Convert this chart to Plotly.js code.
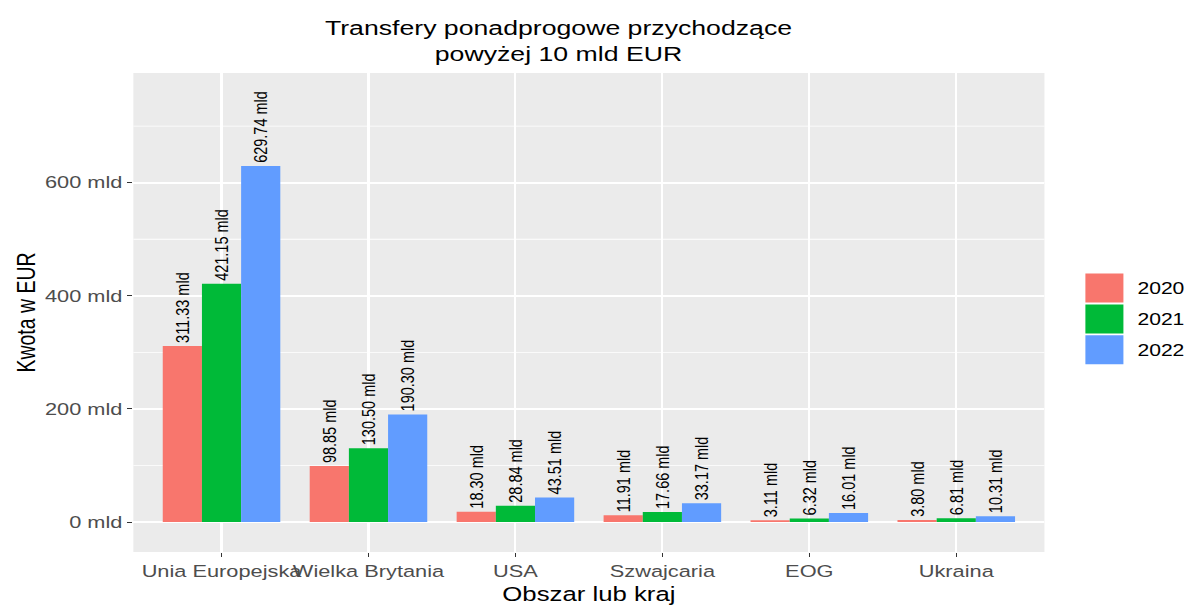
<!DOCTYPE html>
<html>
<head>
<meta charset="utf-8">
<script src="https://cdn.plot.ly/plotly-3.0.1.min.js"></script>
<style>
  html, body { margin: 0; padding: 0; background: #ffffff; overflow: hidden; }
  #wrap { width: 1187px; height: 605px; overflow: hidden; }
  #chart { width: 899px; height: 605px; transform: scaleX(1.3204); transform-origin: 0 0; }
</style>
</head>
<body>
<div id="wrap"><div id="chart"></div></div>
<script>
// ---- data ----
const categories = ['Unia Europejska', 'Wielka Brytania', 'USA', 'Szwajcaria', 'EOG', 'Ukraina'];
const years = ['2020', '2021', '2022'];
const values2020 = [311.33, 98.85, 18.30, 11.91, 3.11, 3.80];
const values2021 = [421.15, 130.50, 28.84, 17.66, 6.32, 6.81];
const values2022 = [629.74, 190.30, 43.51, 33.17, 16.01, 10.31];
const yTicks = [0, 200, 400, 600];
const yTickLabels = ['0 mld', '200 mld', '400 mld', '600 mld'];

const colors = ['#F8766D', '#00BA38', '#619CFF'];
const series = [values2020, values2021, values2022];
const FONT = '"Liberation Sans", Arial, sans-serif';

const traces = series.map((vals, i) => ({
  type: 'bar',
  name: years[i],
  legendgroup: 'g' + i,
  x: categories,
  y: vals,
  marker: { color: colors[i], line: { width: 0 } },
  texttemplate: '%{y:.2f} mld',
  textposition: 'outside',
  textangle: -90,
  constraintext: 'none',
  cliponaxis: false,
  textfont: { family: FONT, size: 14.5, color: '#000000' },
  hoverinfo: 'skip'
}));

const layout = {
  width: 899,
  height: 605,
  margin: { l: 100.7, r: 107.6, t: 73, b: 53, pad: 0 },
  paper_bgcolor: '#FFFFFF',
  plot_bgcolor: '#EBEBEB',
  barmode: 'group',
  bargap: 0.2,
  bargroupgap: 0,
  font: { family: FONT, color: '#000000' },
  title: {
    text: 'Transfery ponadprogowe przychodzące<br>powyżej 10 mld EUR',
    font: { family: FONT, size: 20.2, color: '#000000' },
    x: 0.4705, xref: 'container', xanchor: 'center',
    y: 0.942, yref: 'container', yanchor: 'top'
  },
  xaxis: {
    type: 'category',
    range: [-0.6, 5.6],
    showgrid: true, gridcolor: '#FFFFFF', gridwidth: 1.6,
    zeroline: false, showline: false,
    ticks: 'outside', ticklen: 4, tickwidth: 1, tickcolor: '#333333',
    tickangle: 0,
    tickfont: { family: FONT, size: 16.5, color: '#4D4D4D' },
    title: { text: 'Obszar lub kraj', font: { family: FONT, size: 19.5, color: '#000000' }, standoff: 11 },
    automargin: false,
    fixedrange: true
  },
  yaxis: {
    range: [-53, 794],
    tickmode: 'array', tickvals: yTicks, ticktext: yTickLabels,
    showgrid: true, gridcolor: '#FFFFFF', gridwidth: 1.6,
    minor: { dtick: 100, tick0: 0, showgrid: true, gridcolor: '#FFFFFF', gridwidth: 0.8, ticks: '' },
    zeroline: false, showline: false,
    ticks: 'outside', ticklen: 4, tickwidth: 1, tickcolor: '#333333',
    tickfont: { family: FONT, size: 16.5, color: '#4D4D4D' },
    title: { text: 'Kwota w EUR', font: { family: FONT, size: 19.5, color: '#000000' }, standoff: 1.5 },
    automargin: false,
    fixedrange: true
  },
  showlegend: true,
  legend: {
    xref: 'container', yref: 'paper',
    x: 0.9137, xanchor: 'left',
    y: 0.486, yanchor: 'middle',
    traceorder: 'grouped',
    tracegroupgap: 7,
    bgcolor: 'rgba(0,0,0,0)',
    font: { family: FONT, size: 16, color: '#000000' }
  }
};

Plotly.newPlot('chart', traces, layout, { displayModeBar: false, staticPlot: true }).then(() => {
  // enlarge legend keys to ggplot-like squares
  document.querySelectorAll('#chart .legendpoints path').forEach(p => {
    p.setAttribute('d', 'M9.4,14.5H-19.4V-14.5H9.4Z');
    p.style.strokeWidth = '0';
  });
});
</script>
</body>
</html>
